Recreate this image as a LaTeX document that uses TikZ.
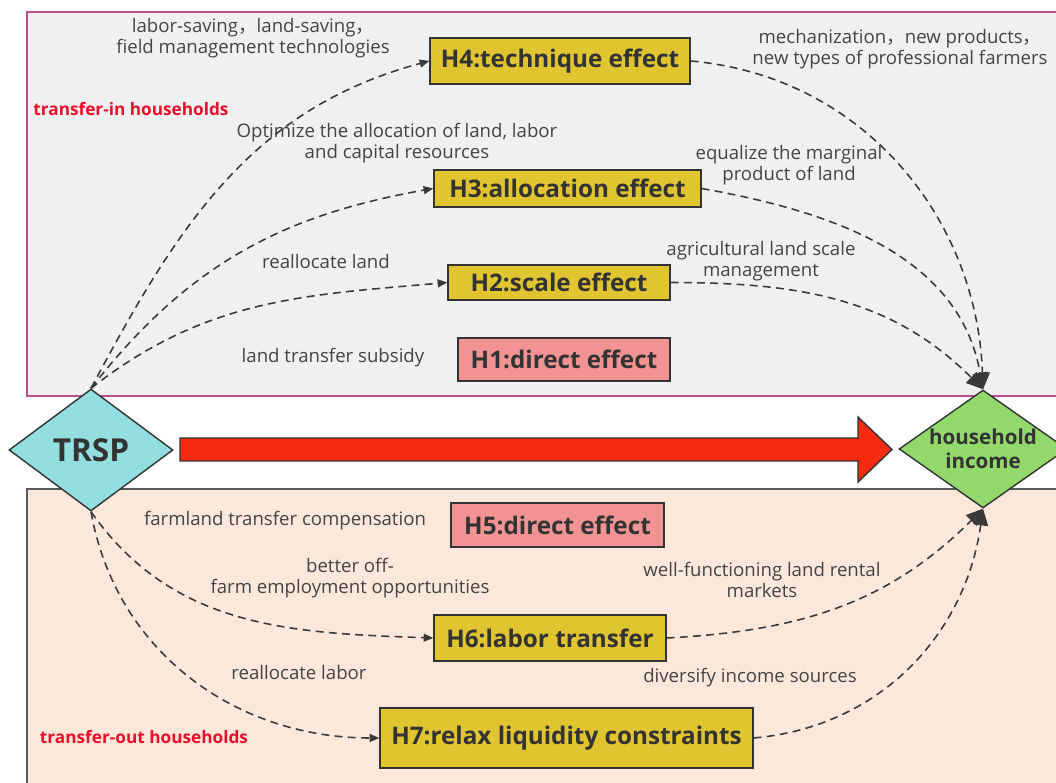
\documentclass[tikz,border=0pt]{standalone}
\usepackage{fontspec}
\setmainfont{Open Sans}
\newfontfamily\cjk{Noto Sans CJK SC}
\usetikzlibrary{shapes.geometric,arrows.meta}

\definecolor{panelin}{HTML}{F0F0F0}
\definecolor{panelinline}{HTML}{B9508A}
\definecolor{panelout}{HTML}{FBE8DA}
\definecolor{paneloutline}{HTML}{5A5A5A}
\definecolor{trspcyan}{HTML}{93DFE0}
\definecolor{incomegreen}{HTML}{92D86A}
\definecolor{effyellow}{HTML}{E0C430}
\definecolor{effpink}{HTML}{F29393}
\definecolor{arrowred}{HTML}{F52A0F}
\definecolor{hhred}{HTML}{E8102A}
\definecolor{textdark}{HTML}{333333}
\definecolor{textgray}{HTML}{444444}
\definecolor{linkgray}{HTML}{3A3A3A}

\begin{document}
\begin{tikzpicture}[
    x=0.02cm, y=0.02cm,
    effbox/.style={draw=textdark,fill=effyellow,thick,inner sep=0pt,text=textdark,font=\bfseries\fontsize{13.8}{16}\selectfont},
    directbox/.style={effbox,fill=effpink},
    note/.style={align=center,text=textgray,font=\fontsize{10.6}{12}\selectfont},
    hhlabel/.style={text=hhred,font=\bfseries\fontsize{9.8}{11}\selectfont},
    link/.style={draw=linkgray,line width=0.9pt,dash pattern=on 4.5pt off 3pt,-{Triangle[length=5.5pt,width=4.5pt]}},
    biglink/.style={link,-{Triangle[length=9.5pt,width=8.5pt]}}
  ]
    \clip (0,0) rectangle (1056,-783);

    \draw[fill=panelin,draw=panelinline,thick] (27,-12) rectangle (1070,-396);
    \draw[fill=panelout,draw=paneloutline,thick] (27,-489) rectangle (1070,-800);

    \node[diamond,draw=textdark,thick,fill=trspcyan,inner sep=0pt,minimum width=3.28cm,minimum height=2.44cm,
      text=textdark,font=\bfseries\fontsize{18}{20}\selectfont] (trsp) at (91,-450) {TRSP};
    \node[diamond,aspect=1.42,draw=textdark,thick,fill=incomegreen,inner sep=0pt,minimum width=3.36cm,minimum height=2.36cm,
      align=center,text=textdark,font=\bfseries\fontsize{11.7}{13.5}\selectfont] (income) at (983,-449) {household\\income};

    \draw[fill=arrowred,draw=textdark,thick] (180,-438) -- (858,-438) -- (858,-417) -- (892,-449.5)
      -- (858,-482) -- (858,-461) -- (180,-461) -- cycle;

    \node[effbox,minimum width=5.2cm,minimum height=0.92cm] (h4) at (560,-61) {H4:technique effect};
    \node[effbox,minimum width=5.34cm,minimum height=0.74cm] (h3) at (567.5,-188.5) {H3:allocation effect};
    \node[effbox,minimum width=4.44cm,minimum height=0.7cm] (h2) at (559,-282.5) {H2:scale effect};
    \node[directbox,minimum width=4.24cm,minimum height=0.86cm] (h1) at (564,-359.5) {H1:direct effect};
    \node[directbox,minimum width=4.26cm,minimum height=0.88cm] (h5) at (557.5,-525) {H5:direct effect};
    \node[effbox,minimum width=4.64cm,minimum height=0.92cm] (h6) at (550,-638) {H6:labor transfer};
    \node[effbox,minimum width=7.46cm,minimum height=1.2cm] (h7) at (566.5,-738) {H7:relax liquidity constraints};

    \node[hhlabel] (inlabel) at (131,-109) {transfer-in households};
    \node[hhlabel] (outlabel) at (144,-737) {transfer-out households};

    \node[note] (n4a) at (253,-38) {labor-saving{\cjk ，}land-saving{\cjk ，}\\field management technologies};
    \node[note] (n4b) at (900,-49) {mechanization{\cjk ，}new products{\cjk ，}\\new types of professional farmers};
    \node[note] (n3a) at (397,-143) {Optimize the allocation of land, labor\\and capital resources};
    \node[note] (n3b) at (789,-165) {equalize the marginal\\product of land};
    \node[note] (n2a) at (326,-262) {reallocate land};
    \node[note] (n2b) at (761,-261) {agricultural land scale\\management};
    \node[note] (n1) at (333,-358) {land transfer subsidy};
    \node[note] (n5) at (285,-521) {farmland transfer compensation};
    \node[note] (n6a) at (350,-578) {better off-\\farm employment opportunities};
    \node[note] (n6b) at (762,-580) {well-functioning land rental\\markets};
    \node[note] (n7a) at (299,-673) {reallocate labor};
    \node[note] (n7b) at (750,-678) {diversify income sources};

    \draw[link] (trsp.north) to[out=62,in=195] (h4.west);
    \draw[link] (trsp.north) to[out=52,in=190] (h3.west);
    \draw[link] (trsp.north) to[out=38,in=185] (h2.west);
    \draw[biglink] (h4.east) to[out=-5,in=92] (income.north);
    \draw[biglink] (h3.east) to[out=-10,in=100] (income.north);
    \draw[biglink] (h2.east) to[out=0,in=135] (income.north);

    \draw[link] (trsp.south) to[out=-55,in=178] (h6.west);
    \draw[link] (trsp.south) to[out=-80,in=180] (h7.west);
    \draw[biglink] (h6.east) to[out=3,in=-135] (income.south);
    \draw[biglink] (h7.east) to[out=5,in=-98] (income.south);
  \end{tikzpicture}
\end{document}
